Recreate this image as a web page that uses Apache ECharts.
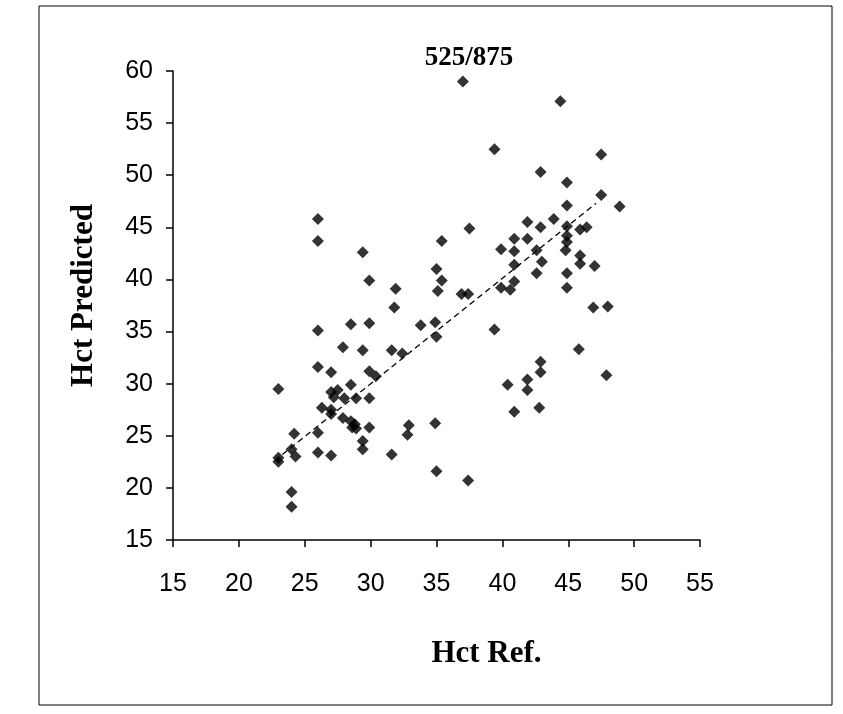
<!DOCTYPE html>
<html>
<head>
<meta charset="utf-8">
<script src="https://cdn.jsdelivr.net/npm/echarts@6/dist/echarts.min.js"></script>
<style>
  html, body { margin: 0; padding: 0; background: #fff; }
  #chart { width: 843px; height: 714px; }
</style>
</head>
<body>
<div id="chart"></div>
<script>
// Hct reference vs predicted
var hctRef = [
  26.0, 26.0, 29.4, 29.9, 31.9, 31.8, 26.0, 28.5, 29.9, 33.8,
  34.9, 35.0, 27.9, 29.4, 31.6, 32.4, 26.0, 27.0, 29.9, 30.4,
  23.0, 28.5, 27.0, 27.5, 28.0, 27.2, 28.9, 29.9, 26.3, 27.0,
  27.0, 27.9, 28.5, 28.8, 28.9, 28.6, 29.9, 24.2, 26.0, 32.9,
  32.8, 34.9, 29.4, 29.4, 24.0, 24.3, 23.0, 23.0, 26.0, 27.0,
  31.6, 35.0, 24.0, 24.0, 37.4, 37.0, 44.4, 39.4, 47.5, 42.9,
  44.9, 47.5, 48.9, 44.9, 37.5, 35.4, 41.9, 43.9, 42.9, 44.9,
  45.9, 46.4, 40.9, 41.9, 44.9, 39.9, 40.9, 42.6, 44.9, 44.8,
  45.9, 35.0, 35.4, 35.1, 36.9, 37.4, 39.4, 40.9, 43.0, 42.6,
  45.9, 47.0, 44.9, 44.9, 39.9, 40.6, 40.9, 46.9, 48.0, 45.8,
  47.9, 42.9, 42.9, 41.9, 41.9, 40.4, 40.9, 42.8
];
var hctPredicted = [
  45.8, 43.7, 42.6, 39.9, 39.1, 37.3, 35.1, 35.7, 35.8, 35.6,
  35.9, 34.5, 33.5, 33.2, 33.2, 32.9, 31.6, 31.1, 31.2, 30.7,
  29.5, 29.9, 29.2, 29.4, 28.6, 28.7, 28.6, 28.6, 27.7, 27.5,
  27.1, 26.7, 26.4, 26.1, 25.7, 25.8, 25.8, 25.2, 25.3, 26.0,
  25.1, 26.2, 24.5, 23.7, 23.7, 23.0, 22.9, 22.5, 23.4, 23.1,
  23.2, 21.6, 19.6, 18.2, 20.7, 59.0, 57.1, 52.5, 52.0, 50.3,
  49.3, 48.1, 47.0, 47.1, 44.9, 43.7, 45.5, 45.8, 45.0, 45.1,
  44.8, 45.0, 43.9, 43.9, 44.2, 42.9, 42.7, 42.8, 43.6, 42.8,
  42.3, 41.0, 39.9, 38.9, 38.6, 38.6, 35.2, 41.4, 41.7, 40.6,
  41.5, 41.3, 40.6, 39.2, 39.2, 39.0, 39.8, 37.3, 37.4, 33.3,
  30.8, 32.1, 31.1, 30.4, 29.4, 29.9, 27.3, 27.7
];
// dashed trend line, ends as drawn
var trendX = [23.3, 47.1];
var trendY = [23.2, 47.3];

var xTicks = { min: 15, max: 55, step: 5 };
var yTicks = { min: 15, max: 60, step: 5 };

var points = hctRef.map(function (x, i) { return [x, hctPredicted[i]]; });
var trend = trendX.map(function (x, i) { return [x, trendY[i]]; });

var chart = echarts.init(document.getElementById('chart'));

chart.setOption({
  backgroundColor: '#fff',
  animation: false,
  title: {
    text: '525/875',
    left: 464,
    top: 40,
    textAlign: 'center',
    textStyle: {
      fontFamily: 'Liberation Serif',
      fontWeight: 'bold',
      fontSize: 27,
      color: '#000'
    }
  },
  grid: {
    left: 173,
    top: 71,
    width: 527,
    height: 469
  },
  xAxis: {
    type: 'value',
    min: xTicks.min,
    max: xTicks.max,
    interval: xTicks.step,
    name: 'Hct Ref.',
    nameLocation: 'middle',
    nameGap: 98,
    nameTextStyle: {
      fontFamily: 'Liberation Serif',
      fontWeight: 'bold',
      fontSize: 31,
      color: '#000',
      padding: [0, 0, 0, 100]
    },
    axisLine: { onZero: false, lineStyle: { color: '#000', width: 1.5 } },
    axisTick: { show: true, inside: false, length: 7, lineStyle: { color: '#000', width: 1.5 } },
    axisLabel: {
      margin: 32,
      fontFamily: 'Liberation Sans',
      fontSize: 25,
      color: '#000'
    },
    splitLine: { show: false }
  },
  yAxis: {
    type: 'value',
    min: yTicks.min,
    max: yTicks.max,
    interval: yTicks.step,
    name: 'Hct Predicted',
    nameLocation: 'middle',
    nameGap: 74,
    nameTextStyle: {
      fontFamily: 'Liberation Serif',
      fontWeight: 'bold',
      fontSize: 31,
      color: '#000',
      padding: [0, 0, 0, 20]
    },
    axisLine: { onZero: false, lineStyle: { color: '#000', width: 1.5 } },
    axisTick: { show: true, inside: false, length: 7, lineStyle: { color: '#000', width: 1.5 } },
    axisLabel: {
      margin: 20,
      fontFamily: 'Liberation Sans',
      fontSize: 25,
      color: '#000'
    },
    splitLine: { show: false }
  },
  graphic: [
    {
      type: 'rect',
      shape: { x: 39, y: 6, width: 793, height: 699 },
      style: { fill: null, stroke: '#000', lineWidth: 1 },
      silent: true
    }
  ],
  series: [
    {
      type: 'scatter',
      data: points,
      symbol: 'diamond',
      symbolSize: 12,
      itemStyle: { color: '#000' },
      z: 3
    },
    {
      type: 'line',
      data: trend,
      showSymbol: false,
      symbol: 'none',
      lineStyle: { color: '#000', width: 1.3, type: [6, 4] },
      z: 2
    }
  ]
});
</script>
</body>
</html>
